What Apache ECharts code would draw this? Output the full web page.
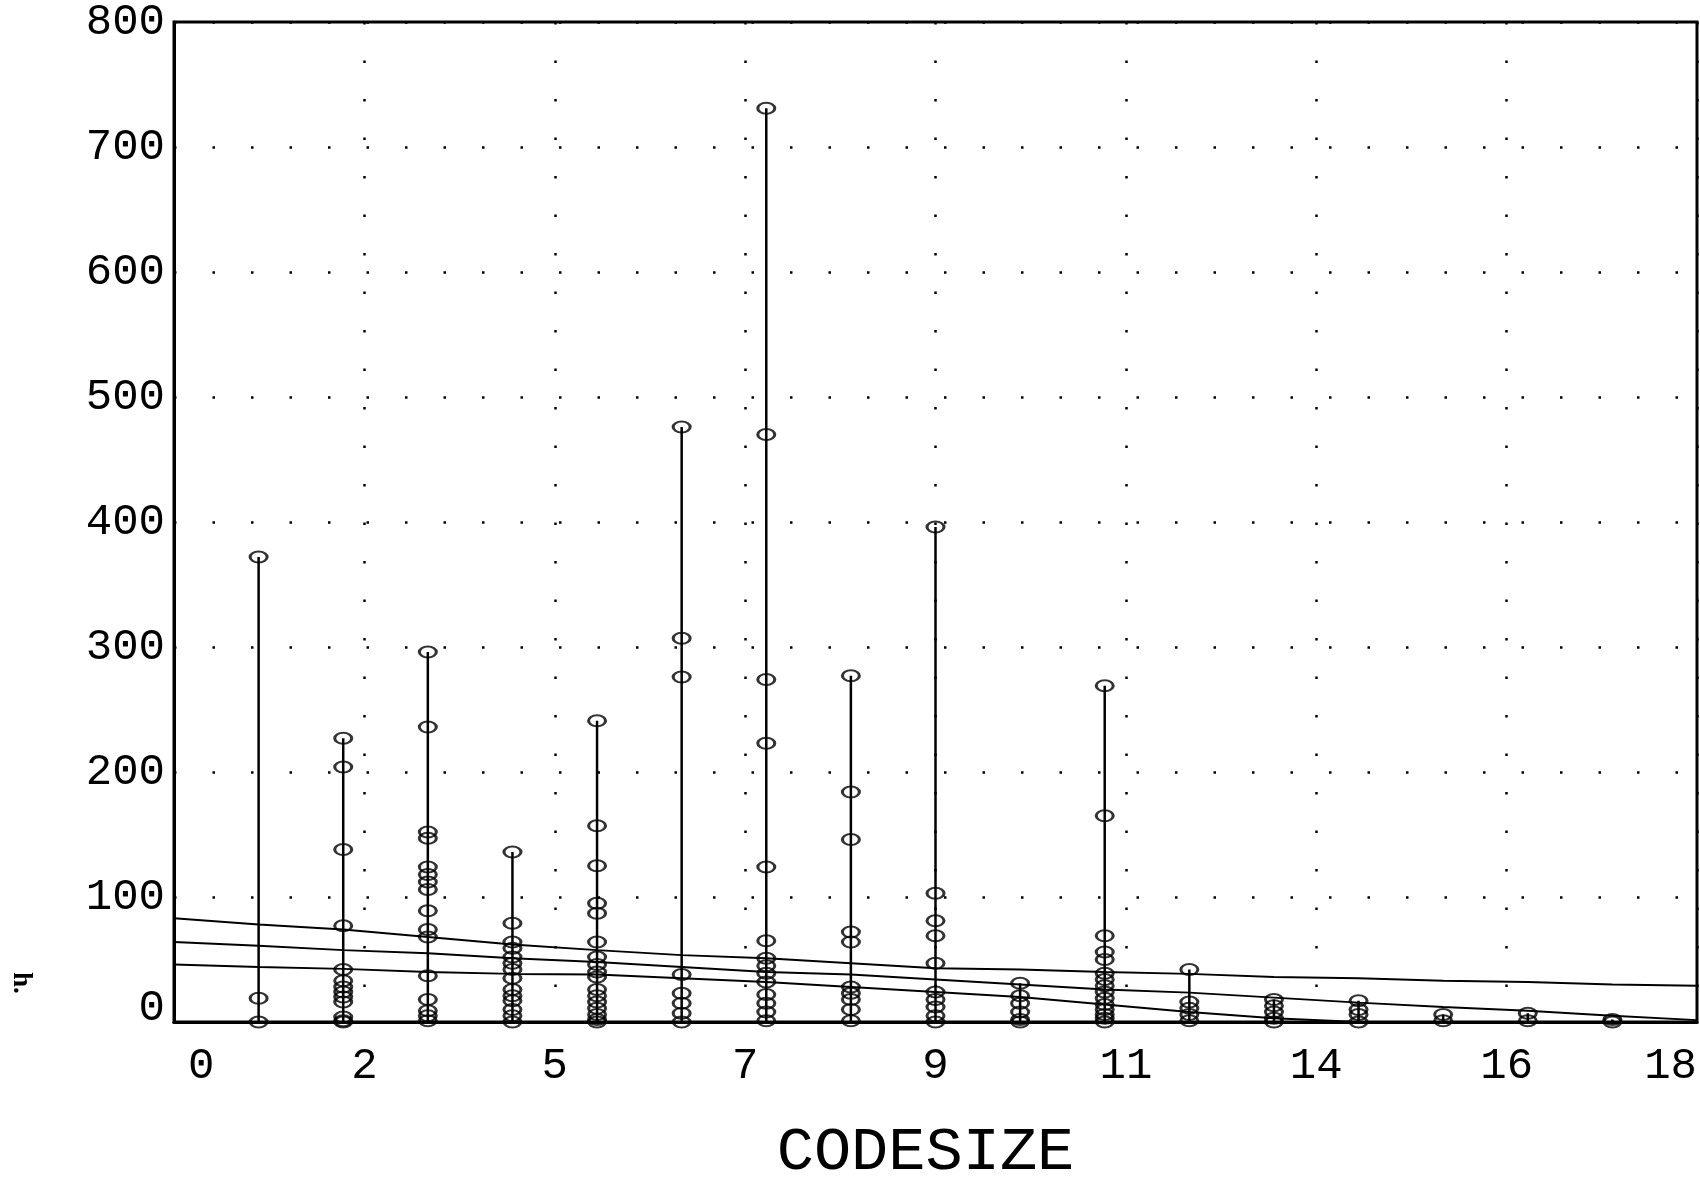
<!DOCTYPE html>
<html>
<head>
<meta charset="utf-8">
<script src="https://cdn.jsdelivr.net/npm/echarts@6/dist/echarts.min.js"></script>
<style>
html,body{margin:0;padding:0;background:#fff;}
#chart{width:1700px;height:1189px;}
</style>
</head>
<body>
<div id="chart"></div>
<script>
// ---- data ----
const codesize = [1, 2, 3, 4, 5, 6, 7, 8, 9, 10, 11, 12, 13, 14, 15, 16, 17];
const hValues = [
  [372, 19, 0],
  [227, 204, 138, 77, 42, 33, 28, 24, 20, 16, 4, 1, 0],
  [296, 236, 152, 147, 124, 118, 112, 106, 89, 74, 68, 37, 18, 9, 5, 1],
  [136, 79, 64, 59, 52, 47, 42, 35, 26, 21, 17, 10, 5, 0],
  [241, 157, 125, 95, 87, 64, 52, 46, 40, 36, 26, 21, 16, 11, 6, 2, 0],
  [476, 307, 276, 38, 23, 15, 7, 0],
  [731, 470, 274, 223, 124, 65, 51, 45, 39, 32, 22, 15, 8, 1],
  [277, 184, 146, 72, 64, 28, 23, 18, 10, 1],
  [396, 103, 81, 69, 47, 24, 18, 12, 5, 0],
  [31, 21, 15, 8, 2, 0],
  [269, 165, 69, 56, 50, 39, 34, 29, 24, 19, 14, 10, 6, 3, 0],
  [42, 16, 11, 6, 1],
  [18, 13, 8, 3, 0],
  [17, 10, 6, 0],
  [6, 1],
  [7, 1],
  [2, 0]
];
const fitX = [0, 1, 2, 3, 4, 5, 6, 7, 8, 9, 10, 11, 12, 13, 14, 15, 16, 17, 18];
const upperFit = [83, 78, 74, 68, 62, 57.5, 53.5, 51, 47, 43, 42, 40, 38.5, 36, 35, 33, 32, 30, 29];
const middleFit = [64, 61, 57.5, 55, 51, 48, 44, 40, 38, 34, 30, 26, 23.5, 19.5, 15.5, 12, 9, 5, 1.5];
const lowerFitX = [0, 1, 2, 3, 4, 5, 6, 7, 8, 9, 10, 11, 12, 13, 14];
const lowerFit = [46, 44, 42.5, 40, 38.5, 38, 35, 32, 28, 24, 20, 14, 8, 3, 0];
const xTickLabels = ['0', '2', '5', '7', '9', '11', '14', '16', '18'];
const yTickLabels = ['0', '100', '200', '300', '400', '500', '600', '700', '800'];
const xName = 'CODESIZE';
const yName = 'h.';

// ---- build series data ----
const stemData = codesize.map((c, i) => [c, Math.max.apply(null, hValues[i])]);
const pointData = [];
codesize.forEach((c, i) => hValues[i].forEach(v => pointData.push([c, v])));
const pair = (xs, ys) => xs.map((x, i) => [x, ys[i]]);

const FONT = '"Liberation Mono", "DejaVu Sans Mono", monospace';
const chart = echarts.init(document.getElementById('chart'), null, {renderer: 'canvas'});
chart.setOption({
  animation: false,
  backgroundColor: '#fff',
  grid: {left: 174, right: 2, top: 19, bottom: 155, show: true, borderColor: '#000', borderWidth: 3},
  xAxis: {
    type: 'value', min: 0, max: 18, interval: 2.25,
    axisLine: {show: true, lineStyle: {color: '#000', width: 3}},
    axisTick: {show: false},
    splitLine: {show: true, lineStyle: {color: '#000', width: 2.5, type: [2.5, 36]}},
    axisLabel: {
      color: '#000', fontFamily: FONT, fontSize: 44, margin: 22,
      alignMinLabel: 'left', alignMaxLabel: 'right',
      formatter: v => {
        const i = Math.round(v / 2.25);
        return i === 0 ? '{first|' + xTickLabels[i] + '}' : xTickLabels[i];
      },
      rich: {first: {fontFamily: FONT, fontSize: 44, color: '#000', padding: [0, 0, 0, 14]}}
    },
    name: xName, nameLocation: 'middle', nameGap: 100,
    nameTextStyle: {color: '#000', fontFamily: FONT, fontSize: 62, padding: [0, 20, 0, 0]}
  },
  yAxis: {
    type: 'value', min: 0, max: 800, interval: 100,
    axisLine: {show: true, lineStyle: {color: '#000', width: 3}},
    axisTick: {show: false},
    splitLine: {show: true, lineStyle: {color: '#000', width: 2.5, type: [2.5, 36]}},
    axisLabel: {
      color: '#000', fontFamily: FONT, fontSize: 44, margin: 9,
      formatter: v => {
        const i = Math.round(v / 100);
        return i === 0 ? '{low|' + yTickLabels[i] + '}' : yTickLabels[i];
      },
      rich: {low: {fontFamily: FONT, fontSize: 44, color: '#000', padding: [0, 0, 28, 0]}}
    }
  },
  graphic: [{
    type: 'text', x: 34, y: 972, rotation: -Math.PI / 2,
    style: {text: yName, fill: '#000', font: 'bold 27px "Liberation Serif", serif',
            textAlign: 'left', textVerticalAlign: 'top'}
  }],
  series: [
    {
      type: 'custom', data: stemData, clip: false, z: 3,
      renderItem: (params, api) => {
        const p0 = api.coord([api.value(0), 0]);
        const p1 = api.coord([api.value(0), api.value(1)]);
        return {type: 'line', shape: {x1: p0[0], y1: p0[1], x2: p1[0], y2: p1[1]},
                style: {stroke: '#000', lineWidth: 2.5}};
      }
    },
    {
      type: 'scatter', data: pointData, clip: false, z: 4,
      symbol: 'circle', symbolSize: [17, 11],
      itemStyle: {color: 'rgba(0,0,0,0)', borderColor: '#000', borderWidth: 2.5}
    },
    {type: 'line', data: pair(fitX, upperFit), showSymbol: false, symbol: 'none', z: 2,
     lineStyle: {color: '#000', width: 2}},
    {type: 'line', data: pair(fitX, middleFit), showSymbol: false, symbol: 'none', z: 2,
     lineStyle: {color: '#000', width: 2}},
    {type: 'line', data: pair(lowerFitX, lowerFit), showSymbol: false, symbol: 'none', z: 2,
     lineStyle: {color: '#000', width: 2}}
  ]
});
</script>
</body>
</html>
